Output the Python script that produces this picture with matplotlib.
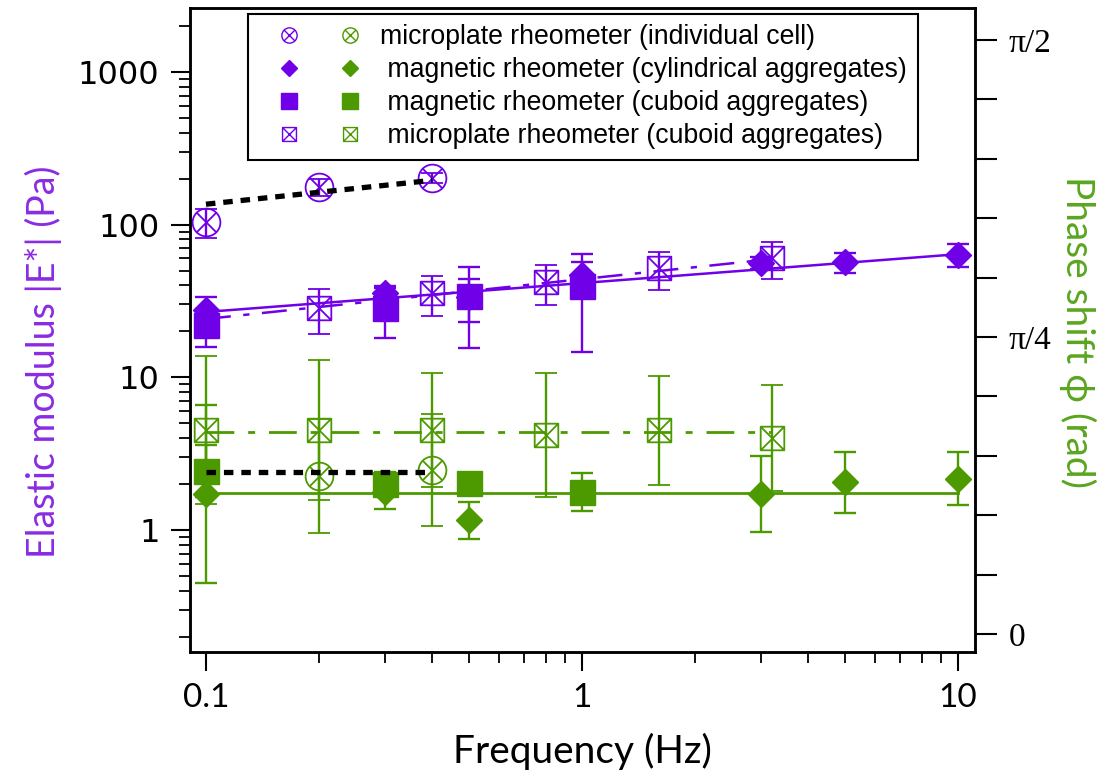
import numpy as np
import matplotlib
matplotlib.use("Agg")
import matplotlib.pyplot as plt
from matplotlib.path import Path
from matplotlib.lines import Line2D
from matplotlib.legend_handler import HandlerTuple
from matplotlib.ticker import NullFormatter

PURPLE = "#7000E8"
PURPLE_TXT = "#8A2BE2"
GREEN = "#4C9A00"
GREEN_TXT = "#5AA620"

# --- elastic modulus |E*| (Pa), left axis ---
f_cell = [0.1, 0.2, 0.4]
E_cell = [104, 176, 202]
E_cell_err = [22, 22, 16]

f_cyl = [0.1, 0.3, 0.5, 1, 3, 5, 10]
E_cyl = [27.6, 35.6, 33.6, 46.9, 56, 56.5, 63.6]
E_cyl_err = [6, 4, 10.5, 10, 5, 8.5, 11]

f_cub = [0.1, 0.3, 0.5, 1]
E_cub = [22, 28.4, 34, 39.6]
E_cub_err = [6.2, 10.3, 18.5, 25]

f_mpc = [0.2, 0.4, 0.8, 1.6, 3.2]
E_mpc = [28.5, 35.6, 42, 52, 60.5]
E_mpc_err = [9.2, 10.3, 12.2, 14.5, 16.7]

# power-law fits (end points)
fit_cell_f = [0.1, 0.4]
fit_cell_E = [136, 195]
fit_cyl_f = [0.1, 10]
fit_cyl_E = [26.8, 64]
fit_mpc_f = [0.1, 3.2]
fit_mpc_E = [24.1, 59.5]

# --- phase shift (rad), right axis ---
f_cell_g = [0.2, 0.4]
phi_cell = [0.418, 0.434]
phi_cell_err = [0.15, 0.148]

f_cyl_g = [0.1, 0.3, 0.5, 3, 5, 10]
phi_cyl = [0.370, 0.375, 0.301, 0.370, 0.401, 0.411]
phi_cyl_err = [0.235, 0.045, 0.049, 0.100, 0.081, 0.070]

f_cub_g = [0.1, 0.3, 0.5, 1]
phi_cub = [0.431, 0.397, 0.399, 0.375]
phi_cub_err = [0.069, 0.03, 0.02, 0.050]

f_mpc_g = [0.1, 0.2, 0.4, 0.8, 1.6, 3.2]
phi_mpc = [0.539, 0.539, 0.539, 0.526, 0.539, 0.518]
phi_mpc_err = [0.196, 0.185, 0.151, 0.164, 0.144, 0.139]

fit_cell_phi_f = [0.1, 0.4]
fit_cell_phi = [0.428, 0.428]
fit_mag_phi_f = [0.1, 10]
fit_mag_phi = [0.373, 0.373]
fit_mpc_phi_f = [0.1, 3.2]
fit_mpc_phi = [0.534, 0.534]

labels = ["microplate rheometer (individual cell)",
          " magnetic rheometer (cylindrical aggregates)",
          " magnetic rheometer (cuboid aggregates)",
          " microplate rheometer (cuboid aggregates)"]


def circle_x():
    d = 0.7071
    cross = Path([(-d, -d), (d, d), (-d, d), (d, -d)],
                 [Path.MOVETO, Path.LINETO, Path.MOVETO, Path.LINETO])
    return Path.make_compound_path(Path.unit_circle(), cross)


def box_x():
    verts = [(-1, -1), (1, -1), (1, 1), (-1, 1), (-1, -1),
             (-1, -1), (1, 1), (-1, 1), (1, -1)]
    codes = [Path.MOVETO, Path.LINETO, Path.LINETO, Path.LINETO, Path.CLOSEPOLY,
             Path.MOVETO, Path.LINETO, Path.MOVETO, Path.LINETO]
    return Path(verts, codes)


CX = circle_x()
BX = box_x()
DOTTED = (0, (1.8, 1.5))
DASHDOT = (0, (10, 5, 2.5, 5))

fig = plt.figure(figsize=(11.17, 7.78), dpi=100)
ax = fig.add_axes([190 / 1117, 1 - 652 / 778, 785 / 1117, 644 / 778])
ax2 = ax.twinx()

eb = dict(ls="none", elinewidth=1.7, capsize=8, capthick=1.7)

# purple: modulus
ax.plot(fit_cell_f, fit_cell_E, color="black", lw=3.8, ls=DOTTED, zorder=3)
ax.plot(fit_cyl_f, fit_cyl_E, color=PURPLE, lw=1.8, zorder=2)
ax.plot(fit_mpc_f, fit_mpc_E, color=PURPLE, lw=1.8, ls=DASHDOT, zorder=2)
ax.errorbar(f_cell, E_cell, yerr=E_cell_err, marker=CX, ms=20, mfc="none",
            mec=PURPLE, mew=1.3, ecolor=PURPLE, **eb)
ax.errorbar(f_cub, E_cub, yerr=E_cub_err, marker="s", ms=18, color=PURPLE, **eb)
ax.errorbar(f_cyl, E_cyl, yerr=E_cyl_err, marker="D", ms=13, color=PURPLE, **eb)
ax.errorbar(f_mpc, E_mpc, yerr=E_mpc_err, marker=BX, ms=17, mfc="none",
            mec=PURPLE, mew=1.3, ecolor=PURPLE, **eb)

# green: phase
ax2.plot(fit_cell_phi_f, fit_cell_phi, color="black", lw=3.8, ls=DOTTED, zorder=3)
ax2.plot(fit_mag_phi_f, fit_mag_phi, color=GREEN, lw=2, zorder=2)
ax2.plot(fit_mpc_phi_f, fit_mpc_phi, color=GREEN, lw=2, ls=DASHDOT, zorder=2)
ax2.errorbar(f_mpc_g, phi_mpc, yerr=phi_mpc_err, marker=BX, ms=17, mfc="none",
             mec=GREEN, mew=1.3, ecolor=GREEN, **eb)
ax2.errorbar(f_cell_g, phi_cell, yerr=phi_cell_err, marker=CX, ms=20, mfc="none",
             mec=GREEN, mew=1.3, ecolor=GREEN, **eb)
ax2.errorbar(f_cub_g, phi_cub, yerr=phi_cub_err, marker="s", ms=18, color=GREEN, **eb)
ax2.errorbar(f_cyl_g, phi_cyl, yerr=phi_cyl_err, marker="D", ms=13, color=GREEN, **eb)

# axes
ax.set_xscale("log")
ax.set_yscale("log")
ax.set_xlim(0.0907, 11.1)
ax.set_ylim(0.159, 2620)
ax2.set_ylim(-0.0476, 1.655)

ax.set_xticks([0.1, 1, 10], ["0.1", "1", "10"], fontfamily="Lato", fontsize=24)
ax.xaxis.set_minor_formatter(NullFormatter())
ax.set_yticks([1, 10, 100, 1000], ["1", "10", "100", "1000"],
              fontfamily="DejaVu Sans", fontsize=23)
ax.yaxis.set_minor_formatter(NullFormatter())

phi_ticks = np.arange(11) * np.pi / 20
phi_labels = [""] * 11
phi_labels[0] = "0"
phi_labels[5] = "π/4"
phi_labels[10] = "π/2"
ax2.set_yticks(phi_ticks, phi_labels, fontfamily="Liberation Serif", fontsize=24)

for a in (ax, ax2):
    for s in a.spines.values():
        s.set_linewidth(1.8)
ax.tick_params(which="major", direction="out", length=14, width=1.5, pad=8)
ax.tick_params(which="minor", direction="out", length=8, width=1.3)
ax2.tick_params(axis="y", direction="out", length=16, width=1.5, pad=8)

ax.set_xlabel("Frequency (Hz)", fontfamily="Lato", fontsize=28)
ax.xaxis.set_label_coords(0.5, -0.125)
ax.set_ylabel("Elastic modulus |E*| (Pa)", fontfamily="Lato", fontsize=27,
              color=PURPLE_TXT)
ax.yaxis.set_label_coords(-0.163, 0.45)
ax2.set_ylabel("Phase shift ϕ (rad)", fontfamily=["Lato", "DejaVu Sans"], fontsize=28,
               color=GREEN_TXT, rotation=270, va="center")
ax2.yaxis.set_label_coords(1.131, 0.497)


# legend: purple and green marker side by side
def proxy(marker, color, ms, filled):
    if filled:
        return Line2D([], [], ls="none", marker=marker, ms=ms, color=color)
    return Line2D([], [], ls="none", marker=marker, ms=ms, mfc="none", mec=color, mew=1.0)


handles = [
    (proxy(CX, PURPLE, 11, False), proxy(CX, GREEN, 11, False)),
    (proxy("D", PURPLE, 8, True), proxy("D", GREEN, 8, True)),
    (proxy("s", PURPLE, 11, True), proxy("s", GREEN, 11, True)),
    (proxy(BX, PURPLE, 10, False), proxy(BX, GREEN, 10, False)),
]
leg = ax2.legend(handles, labels, handler_map={tuple: HandlerTuple(ndivide=None, pad=0.08)},
                 loc="upper left", bbox_to_anchor=(0.074, 0.991), borderaxespad=0,
                 handlelength=4.55, handletextpad=0.0, labelspacing=0.26,
                 fancybox=False, edgecolor="black", framealpha=1,
                 prop={"family": "Liberation Sans", "size": 19.2})
leg.get_frame().set_linewidth(1.5)

fig.savefig("out.png", dpi=100)
